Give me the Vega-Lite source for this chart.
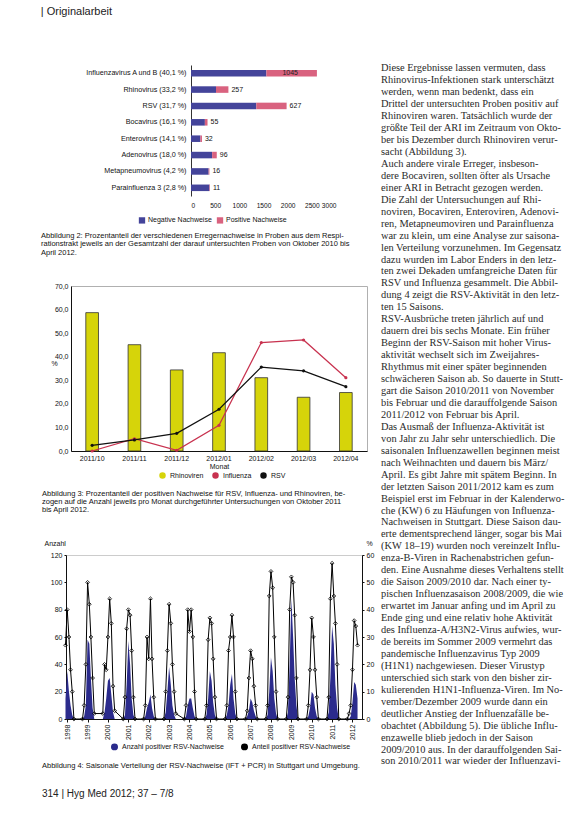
{
  "$schema": "https://vega.github.io/schema/vega-lite/v6.json",
  "background": "white",
  "padding": {"left": 34, "top": 5, "right": 0, "bottom": 0},
  "title": {"text": "| Originalarbeit", "anchor": "start", "frame": "bounds", "dx": 6, "fontSize": 11, "fontWeight": "normal", "font": "Liberation Sans", "color": "#222", "offset": 46},
  "config": {
    "view": {"stroke": null},
    "font": "Liberation Sans",
    "axis": {"labelFont": "Liberation Sans", "labelFontSize": 7, "labelColor": "#111", "titleFont": "Liberation Sans", "titleFontSize": 7, "titleFontWeight": "normal", "titleColor": "#111", "domainColor": "#111", "tickColor": "#111", "grid": false},
    "legend": {"labelFont": "Liberation Sans", "labelFontSize": 7, "labelColor": "#111", "symbolSize": 40},
    "title": {"font": "Liberation Sans"}
  },
  "resolve": {"scale": {"color": "independent"}, "legend": {"color": "independent"}},
  "hconcat": [
    {
      "resolve": {"scale": {"color": "independent"}, "legend": {"color": "independent"}},
      "concat": [
        {
          "spacing": 0,
          "hconcat": [
            {"width": 1, "height": 1, "data": {"values": [{}]}, "mark": {"type": "point", "opacity": 0}},
            {
              "width": 145,
              "height": 131,
              "data": {"values": [
                {"virus": "Influenzavirus A und B (40,1 %)", "status": "Negative Nachweise", "count": 1560},
                {"virus": "Influenzavirus A und B (40,1 %)", "status": "Positive Nachweise", "count": 1045},
                {"virus": "Rhinovirus (33,2 %)", "status": "Negative Nachweise", "count": 517},
                {"virus": "Rhinovirus (33,2 %)", "status": "Positive Nachweise", "count": 257},
                {"virus": "RSV (31,7 %)", "status": "Negative Nachweise", "count": 1351},
                {"virus": "RSV (31,7 %)", "status": "Positive Nachweise", "count": 627},
                {"virus": "Bocavirus (16,1 %)", "status": "Negative Nachweise", "count": 287},
                {"virus": "Bocavirus (16,1 %)", "status": "Positive Nachweise", "count": 55},
                {"virus": "Enterovirus (14,1 %)", "status": "Negative Nachweise", "count": 195},
                {"virus": "Enterovirus (14,1 %)", "status": "Positive Nachweise", "count": 32},
                {"virus": "Adenovirus (18,0 %)", "status": "Negative Nachweise", "count": 437},
                {"virus": "Adenovirus (18,0 %)", "status": "Positive Nachweise", "count": 96},
                {"virus": "Metapneumovirus (4,2 %)", "status": "Negative Nachweise", "count": 365},
                {"virus": "Metapneumovirus (4,2 %)", "status": "Positive Nachweise", "count": 16},
                {"virus": "Parainfluenza 3 (2,8 %)", "status": "Negative Nachweise", "count": 382},
                {"virus": "Parainfluenza 3 (2,8 %)", "status": "Positive Nachweise", "count": 11}
              ]},
              "transform": [{"stack": "count", "groupby": ["virus"], "sort": [{"field": "status", "order": "ascending"}], "as": ["x0", "x1"]}],
              "title": {"text": ["Abbildung 2: Prozentanteil der verschiedenen Erregernachweise in Proben aus dem Respi-", "rationstrakt jeweils an der Gesamtzahl der darauf untersuchten Proben von Oktober 2010 bis", "April 2012."], "orient": "bottom", "anchor": "start", "frame": "group", "dx": -150, "fontSize": 7.5, "fontWeight": "normal", "lineHeight": 8.5, "color": "#111", "offset": 23},
              "encoding": {
                "y": {"field": "virus", "type": "nominal", "sort": ["Influenzavirus A und B (40,1 %)", "Rhinovirus (33,2 %)", "RSV (31,7 %)", "Bocavirus (16,1 %)", "Enterovirus (14,1 %)", "Adenovirus (18,0 %)", "Metapneumovirus (4,2 %)", "Parainfluenza 3 (2,8 %)"], "scale": {"paddingInner": 0.6, "paddingOuter": 0.3}, "axis": {"title": null, "ticks": false, "labelPadding": 5, "labelFontSize": 7.2, "domainColor": "#333"}}
              },
              "layer": [
                {
                  "mark": {"type": "bar"},
                  "encoding": {
                    "x": {"field": "x0", "type": "quantitative", "scale": {"domain": [0, 3000]}, "axis": {"title": null, "values": [0, 500, 1000, 1500, 2000, 2500, 3000], "format": "d", "domain": false, "ticks": false, "labelPadding": 6, "labelOverlap": false, "labelFontSize": 6.6}},
                    "x2": {"field": "x1"},
                    "color": {"field": "status", "type": "nominal", "scale": {"domain": ["Negative Nachweise", "Positive Nachweise"], "range": ["#44449a", "#d9627f"]}, "legend": {"orient": "none", "legendX": 101, "legendY": 151, "direction": "horizontal", "title": null, "symbolType": "square", "columnPadding": 4, "labelOffset": 2}}
                  }
                },
                {
                  "transform": [{"filter": "datum.status == 'Positive Nachweise' && datum.x1 < 2000"}],
                  "mark": {"type": "text", "align": "left", "baseline": "middle", "dx": 3, "fontSize": 7, "color": "#111"},
                  "encoding": {"x": {"field": "x1", "type": "quantitative", "axis": {"title": null, "values": [0, 500, 1000, 1500, 2000, 2500, 3000], "format": "d", "domain": false, "ticks": false, "labelPadding": 6, "labelOverlap": false, "labelFontSize": 6.6}}, "text": {"field": "count", "type": "quantitative"}}
                },
                {
                  "transform": [{"filter": "datum.status == 'Positive Nachweise' && datum.x1 >= 2000"}],
                  "mark": {"type": "text", "align": "left", "baseline": "middle", "dx": 16, "fontSize": 7, "color": "#222"},
                  "encoding": {"x": {"field": "x0", "type": "quantitative", "axis": {"title": null, "values": [0, 500, 1000, 1500, 2000, 2500, 3000], "format": "d", "domain": false, "ticks": false, "labelPadding": 6, "labelOverlap": false, "labelFontSize": 6.6}}, "text": {"field": "count", "type": "quantitative"}}
                }
              ]
            }
          ]
        },
        {
          "spacing": 0,
          "hconcat": [
            {"width": 1, "height": 1, "data": {"values": [{}]}, "mark": {"type": "point", "opacity": 0}},
            {
              "width": 296,
              "height": 165,
              "view": {"stroke": "#b0b0b0"},
              "data": {"values": [
                {"m": "2011/10", "s": "Rhinoviren", "v": 58.7},
                {"m": "2011/11", "s": "Rhinoviren", "v": 45.1},
                {"m": "2011/12", "s": "Rhinoviren", "v": 34.4},
                {"m": "2012/01", "s": "Rhinoviren", "v": 41.7},
                {"m": "2012/02", "s": "Rhinoviren", "v": 31.1},
                {"m": "2012/03", "s": "Rhinoviren", "v": 22.8},
                {"m": "2012/04", "s": "Rhinoviren", "v": 24.8},
                {"m": "2011/10", "s": "Influenza", "v": 0.0},
                {"m": "2011/11", "s": "Influenza", "v": 5.2},
                {"m": "2011/12", "s": "Influenza", "v": 0.3},
                {"m": "2012/01", "s": "Influenza", "v": 10.9},
                {"m": "2012/02", "s": "Influenza", "v": 46.0},
                {"m": "2012/03", "s": "Influenza", "v": 47.1},
                {"m": "2012/04", "s": "Influenza", "v": 31.1},
                {"m": "2011/10", "s": "RSV", "v": 2.4},
                {"m": "2011/11", "s": "RSV", "v": 4.7},
                {"m": "2011/12", "s": "RSV", "v": 7.5},
                {"m": "2012/01", "s": "RSV", "v": 17.7},
                {"m": "2012/02", "s": "RSV", "v": 35.6},
                {"m": "2012/03", "s": "RSV", "v": 34.0},
                {"m": "2012/04", "s": "RSV", "v": 27.3}
              ]},
              "title": {"text": ["Abbildung 3: Prozentanteil der positiven Nachweise für RSV, Influenza- und Rhinoviren, be-", "zogen auf die Anzahl jeweils pro Monat durchgeführter Untersuchungen von Oktober 2011", "bis April 2012."], "orient": "bottom", "anchor": "start", "frame": "group", "dx": -29, "fontSize": 7.5, "fontWeight": "normal", "lineHeight": 8, "color": "#111", "offset": 21},
              "encoding": {
                "x": {"field": "m", "type": "ordinal", "scale": {"paddingInner": 0.7, "paddingOuter": 0.35}, "axis": {"title": "Monat", "labelAngle": 0, "ticks": false, "labelPadding": 3, "titlePadding": 1}},
                "y": {"field": "v", "type": "quantitative", "scale": {"domain": [0, 70]}, "axis": {"values": [0, 10, 20, 30, 40, 50, 60, 70], "labelExpr": "replace(format(datum.value, '.1f'), '.', ',')", "title": "%", "titleAngle": 0, "titleAlign": "left", "titleX": -20, "titleY": 80, "ticks": false, "labelPadding": 3}},
                "color": {"field": "s", "type": "nominal", "scale": {"domain": ["Rhinoviren", "Influenza", "RSV"], "range": ["#d6d40a", "#c8324f", "#111111"]}, "legend": {"orient": "none", "legendX": 122, "legendY": 186, "direction": "horizontal", "title": null, "columnPadding": 6, "symbolSize": 25}}
              },
              "layer": [
                {
                  "transform": [{"filter": "datum.s == 'Rhinoviren'"}],
                  "mark": {"type": "bar", "stroke": "#333", "strokeWidth": 0.8}
                },
                {
                  "transform": [{"filter": "datum.s != 'Rhinoviren'"}],
                  "mark": {"type": "line", "strokeWidth": 1.2, "point": {"filled": true, "size": 10}}
                }
              ]
            }
          ]
        },
        {
          "spacing": 0,
          "hconcat": [
            {"width": 1, "height": 1, "data": {"values": [{}]}, "mark": {"type": "point", "opacity": 0}},
            {
              "width": 296,
              "height": 164,
              "view": {"stroke": "#cccccc"},
              "data": {"values": [
                {"d": "1997-12", "n": 15, "p": 27}, {"d": "1998-01", "n": 35, "p": 40}, {"d": "1998-02", "n": 20, "p": 30}, {"d": "1998-03", "n": 10, "p": 18}, {"d": "1998-04", "n": 3, "p": 10}, {"d": "1998-05", "n": 0, "p": 0},
                {"d": "1998-10", "n": 0, "p": 0}, {"d": "1998-11", "n": 2, "p": 5}, {"d": "1998-12", "n": 10, "p": 20}, {"d": "1999-01", "n": 58, "p": 50}, {"d": "1999-02", "n": 55, "p": 42}, {"d": "1999-03", "n": 30, "p": 30}, {"d": "1999-04", "n": 8, "p": 15}, {"d": "1999-05", "n": 0, "p": 2},
                {"d": "1999-10", "n": 0, "p": 2}, {"d": "1999-11", "n": 5, "p": 20}, {"d": "1999-12", "n": 15, "p": 18}, {"d": "2000-01", "n": 28, "p": 30}, {"d": "2000-02", "n": 30, "p": 44}, {"d": "2000-03", "n": 18, "p": 35}, {"d": "2000-04", "n": 5, "p": 12}, {"d": "2000-05", "n": 0, "p": 3},
                {"d": "2000-10", "n": 0, "p": 0}, {"d": "2000-11", "n": 3, "p": 8}, {"d": "2000-12", "n": 25, "p": 33}, {"d": "2001-01", "n": 57, "p": 40}, {"d": "2001-02", "n": 40, "p": 38}, {"d": "2001-03", "n": 15, "p": 25}, {"d": "2001-04", "n": 3, "p": 8}, {"d": "2001-05", "n": 0, "p": 0},
                {"d": "2001-10", "n": 0, "p": 0}, {"d": "2001-11", "n": 2, "p": 5}, {"d": "2001-12", "n": 8, "p": 30}, {"d": "2002-01", "n": 12, "p": 22}, {"d": "2002-02", "n": 18, "p": 44}, {"d": "2002-03", "n": 8, "p": 22}, {"d": "2002-04", "n": 2, "p": 8}, {"d": "2002-05", "n": 0, "p": 0},
                {"d": "2002-10", "n": 0, "p": 0}, {"d": "2002-11", "n": 5, "p": 10}, {"d": "2002-12", "n": 20, "p": 25}, {"d": "2003-01", "n": 38, "p": 42}, {"d": "2003-02", "n": 25, "p": 35}, {"d": "2003-03", "n": 10, "p": 20}, {"d": "2003-04", "n": 3, "p": 10}, {"d": "2003-05", "n": 0, "p": 2},
                {"d": "2003-10", "n": 0, "p": 0}, {"d": "2003-11", "n": 2, "p": 5}, {"d": "2003-12", "n": 10, "p": 40}, {"d": "2004-01", "n": 15, "p": 32}, {"d": "2004-02", "n": 15, "p": 40}, {"d": "2004-03", "n": 8, "p": 30}, {"d": "2004-04", "n": 2, "p": 10}, {"d": "2004-05", "n": 0, "p": 0},
                {"d": "2004-10", "n": 0, "p": 0}, {"d": "2004-11", "n": 3, "p": 5}, {"d": "2004-12", "n": 15, "p": 29}, {"d": "2005-01", "n": 35, "p": 37}, {"d": "2005-02", "n": 28, "p": 35}, {"d": "2005-03", "n": 12, "p": 22}, {"d": "2005-04", "n": 3, "p": 8}, {"d": "2005-05", "n": 0, "p": 0},
                {"d": "2005-10", "n": 0, "p": 0}, {"d": "2005-11", "n": 3, "p": 5}, {"d": "2005-12", "n": 10, "p": 25}, {"d": "2006-01", "n": 25, "p": 30}, {"d": "2006-02", "n": 33, "p": 38}, {"d": "2006-03", "n": 15, "p": 30}, {"d": "2006-04", "n": 4, "p": 10}, {"d": "2006-05", "n": 0, "p": 0},
                {"d": "2006-10", "n": 0, "p": 0}, {"d": "2006-11", "n": 2, "p": 3}, {"d": "2006-12", "n": 6, "p": 15}, {"d": "2007-01", "n": 15, "p": 25}, {"d": "2007-02", "n": 12, "p": 22}, {"d": "2007-03", "n": 6, "p": 12}, {"d": "2007-04", "n": 2, "p": 5}, {"d": "2007-05", "n": 0, "p": 0},
                {"d": "2007-10", "n": 0, "p": 0}, {"d": "2007-11", "n": 3, "p": 5}, {"d": "2007-12", "n": 20, "p": 45}, {"d": "2008-01", "n": 45, "p": 54}, {"d": "2008-02", "n": 35, "p": 48}, {"d": "2008-03", "n": 15, "p": 30}, {"d": "2008-04", "n": 4, "p": 10}, {"d": "2008-05", "n": 0, "p": 0},
                {"d": "2008-10", "n": 0, "p": 0}, {"d": "2008-11", "n": 5, "p": 8}, {"d": "2008-12", "n": 40, "p": 40}, {"d": "2009-01", "n": 88, "p": 52}, {"d": "2009-02", "n": 60, "p": 50}, {"d": "2009-03", "n": 30, "p": 38}, {"d": "2009-04", "n": 10, "p": 15}, {"d": "2009-05", "n": 0, "p": 0},
                {"d": "2009-10", "n": 0, "p": 0}, {"d": "2009-11", "n": 2, "p": 5}, {"d": "2009-12", "n": 8, "p": 18}, {"d": "2010-01", "n": 20, "p": 37}, {"d": "2010-02", "n": 18, "p": 30}, {"d": "2010-03", "n": 8, "p": 18}, {"d": "2010-04", "n": 2, "p": 8}, {"d": "2010-05", "n": 0, "p": 0},
                {"d": "2010-10", "n": 0, "p": 0}, {"d": "2010-11", "n": 5, "p": 8}, {"d": "2010-12", "n": 30, "p": 44}, {"d": "2011-01", "n": 68, "p": 57}, {"d": "2011-02", "n": 55, "p": 45}, {"d": "2011-03", "n": 25, "p": 35}, {"d": "2011-04", "n": 8, "p": 20}, {"d": "2011-05", "n": 0, "p": 0},
                {"d": "2011-10", "n": 0, "p": 0}, {"d": "2011-11", "n": 0, "p": 2}, {"d": "2011-12", "n": 2, "p": 5}, {"d": "2012-01", "n": 12, "p": 18}, {"d": "2012-02", "n": 27, "p": 36}, {"d": "2012-03", "n": 25, "p": 34}, {"d": "2012-04", "n": 15, "p": 27}
              ]},
              "title": {"text": "Abbildung 4: Saisonale Verteilung der RSV-Nachweise (IFT + PCR) in Stuttgart und Umgebung.", "subtitle": "314 | Hyg Med 2012; 37 – 7/8", "orient": "bottom", "anchor": "start", "frame": "group", "dx": -24, "fontSize": 7.5, "fontWeight": "normal", "color": "#111", "offset": 22, "subtitleFontSize": 10, "subtitleColor": "#222", "subtitlePadding": 20, "subtitleFont": "Liberation Sans"},
              "encoding": {
                "x": {"field": "d", "type": "temporal", "timeUnit": "yearmonth", "scale": {"domain": [{"year": 1997, "month": 12, "date": 10}, {"year": 2012, "month": 6, "date": 20}]}, "axis": {"title": null, "format": "%Y", "labelAngle": -90, "labelAlign": "right", "labelBaseline": "middle", "tickCount": {"interval": "year", "step": 1}, "ticks": true, "tickSize": 3, "labelPadding": 2}}
              },
              "layer": [
                {
                  "mark": {"type": "area", "interpolate": "linear"},
                  "encoding": {
                    "y": {"field": "n", "type": "quantitative", "scale": {"domain": [0, 120]}, "axis": {"values": [0, 20, 40, 60, 80, 100, 120], "title": "Anzahl", "titleAngle": 0, "titleAlign": "left", "titleBaseline": "middle", "titleX": -22, "titleY": -12, "tickSize": 2, "labelPadding": 2}},
                    "color": {"datum": "Anzahl positiver RSV-Nachweise", "type": "nominal", "scale": {"domain": ["Anzahl positiver RSV-Nachweise", "Anteil positiver RSV-Nachweise"], "range": ["#2b2b8c", "#000000"]}, "legend": {"orient": "none", "legendX": 74, "legendY": 188, "direction": "horizontal", "title": null, "columnPadding": 14, "symbolSize": 30}}
                  }
                },
                {
                  "mark": {"type": "line", "strokeWidth": 1, "point": {"shape": "diamond", "filled": false, "size": 14, "strokeWidth": 0.8}},
                  "encoding": {
                    "y": {"field": "p", "type": "quantitative", "scale": {"domain": [0, 60]}, "axis": {"orient": "right", "values": [0, 10, 20, 30, 40, 50, 60], "title": "%", "titleAngle": 0, "titleAlign": "left", "titleBaseline": "middle", "titleX": 4, "titleY": -12, "tickSize": 2, "labelPadding": 2}},
                    "color": {"datum": "Anteil positiver RSV-Nachweise", "type": "nominal"}
                  }
                }
              ],
              "resolve": {"scale": {"y": "independent"}}
            }
          ]
        }
      ],
      "columns": 1,
      "spacing": 24
    },
    {
      "width": 200,
      "height": 720,
      "data": {"values": [
        {"i": 0, "t": "Diese Ergebnisse lassen vermuten, dass"},
        {"i": 1, "t": "Rhinovirus-Infektionen stark unterschätzt"},
        {"i": 2, "t": "werden, wenn man bedenkt, dass ein"},
        {"i": 3, "t": "Drittel der untersuchten Proben positiv auf"},
        {"i": 4, "t": "Rhinoviren waren. Tatsächlich wurde der"},
        {"i": 5, "t": "größte Teil der ARI im Zeitraum von Okto-"},
        {"i": 6, "t": "ber bis Dezember durch Rhinoviren verur-"},
        {"i": 7, "t": "sacht (Abbildung 3)."},
        {"i": 8, "t": "\u2003Auch andere virale Erreger, insbeson-"},
        {"i": 9, "t": "dere Bocaviren, sollten öfter als Ursache"},
        {"i": 10, "t": "einer ARI in Betracht gezogen werden."},
        {"i": 11, "t": "\u2003Die Zahl der Untersuchungen auf Rhi-"},
        {"i": 12, "t": "noviren, Bocaviren, Enteroviren, Adenovi-"},
        {"i": 13, "t": "ren, Metapneumoviren und Parainfluenza"},
        {"i": 14, "t": "war zu klein, um eine Analyse zur saisona-"},
        {"i": 15, "t": "len Verteilung vorzunehmen. Im Gegensatz"},
        {"i": 16, "t": "dazu wurden im Labor Enders in den letz-"},
        {"i": 17, "t": "ten zwei Dekaden umfangreiche Daten für"},
        {"i": 18, "t": "RSV und Influenza gesammelt. Die Abbil-"},
        {"i": 19, "t": "dung 4 zeigt die RSV-Aktivität in den letz-"},
        {"i": 20, "t": "ten 15 Saisons."},
        {"i": 21, "t": "\u2003RSV-Ausbrüche treten jährlich auf und"},
        {"i": 22, "t": "dauern drei bis sechs Monate. Ein früher"},
        {"i": 23, "t": "Beginn der RSV-Saison mit hoher Virus-"},
        {"i": 24, "t": "aktivität wechselt sich im Zweijahres-"},
        {"i": 25, "t": "Rhythmus mit einer später beginnenden"},
        {"i": 26, "t": "schwächeren Saison ab. So dauerte in Stutt-"},
        {"i": 27, "t": "gart die Saison 2010/2011 von November"},
        {"i": 28, "t": "bis Februar und die darauffolgende Saison"},
        {"i": 29, "t": "2011/2012 von Februar bis April."},
        {"i": 30, "t": "\u2003Das Ausmaß der Influenza-Aktivität ist"},
        {"i": 31, "t": "von Jahr zu Jahr sehr unterschiedlich. Die"},
        {"i": 32, "t": "saisonalen Influenzawellen beginnen meist"},
        {"i": 33, "t": "nach Weihnachten und dauern bis März/"},
        {"i": 34, "t": "April. Es gibt Jahre mit spätem Beginn. In"},
        {"i": 35, "t": "der letzten Saison 2011/2012 kam es zum"},
        {"i": 36, "t": "Beispiel erst im Februar in der Kalenderwo-"},
        {"i": 37, "t": "che (KW) 6 zu Häufungen von Influenza-"},
        {"i": 38, "t": "Nachweisen in Stuttgart. Diese Saison dau-"},
        {"i": 39, "t": "erte dementsprechend länger, sogar bis Mai"},
        {"i": 40, "t": "(KW 18–19) wurden noch vereinzelt Influ-"},
        {"i": 41, "t": "enza-B-Viren in Rachenabstrichen gefun-"},
        {"i": 42, "t": "den. Eine Ausnahme dieses Verhaltens stellt"},
        {"i": 43, "t": "die Saison 2009/2010 dar. Nach einer ty-"},
        {"i": 44, "t": "pischen Influenzasaison 2008/2009, die wie"},
        {"i": 45, "t": "erwartet im Januar anfing und im April zu"},
        {"i": 46, "t": "Ende ging und eine relativ hohe Aktivität"},
        {"i": 47, "t": "des Influenza-A/H3N2-Virus aufwies, wur-"},
        {"i": 48, "t": "de bereits im Sommer 2009 vermehrt das"},
        {"i": 49, "t": "pandemische Influenzavirus Typ 2009"},
        {"i": 50, "t": "(H1N1) nachgewiesen. Dieser Virustyp"},
        {"i": 51, "t": "unterschied sich stark von den bisher zir-"},
        {"i": 52, "t": "kulierenden H1N1-Influenza-Viren. Im No-"},
        {"i": 53, "t": "vember/Dezember 2009 wurde dann ein"},
        {"i": 54, "t": "deutlicher Anstieg der Influenzafälle be-"},
        {"i": 55, "t": "obachtet (Abbildung 5). Die übliche Influ-"},
        {"i": 56, "t": "enzawelle blieb jedoch in der Saison"},
        {"i": 57, "t": "2009/2010 aus. In der darauffolgenden Sai-"},
        {"i": 58, "t": "son 2010/2011 war wieder der Influenzavi-"}
      ]},
      "mark": {"type": "text", "align": "left", "baseline": "middle", "font": "Liberation Serif", "fontSize": 10.4, "color": "#2a2a2a"},
      "encoding": {
        "y": {"field": "i", "type": "quantitative", "scale": {"domain": [-0.28, 59.97], "reverse": true, "nice": false, "zero": false}, "axis": null},
        "x": {"datum": 0, "type": "quantitative", "scale": {"domain": [0, 1]}, "axis": null},
        "text": {"field": "t", "type": "nominal"}
      }
    }
  ],
  "spacing": 6
}
